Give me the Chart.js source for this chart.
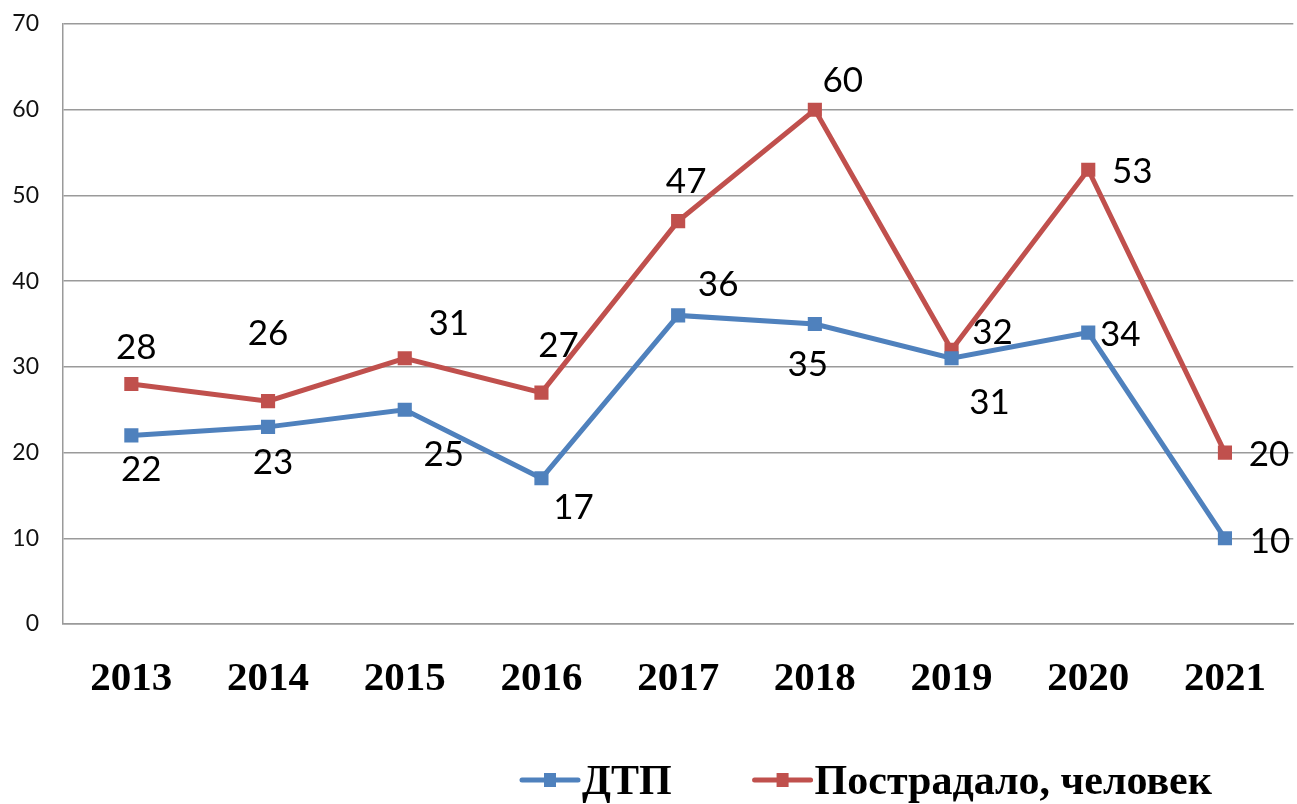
<!DOCTYPE html>
<html>
<head>
<meta charset="utf-8">
<script src="https://cdn.jsdelivr.net/npm/chart.js@4/dist/chart.umd.min.js"></script>
<style>
  html, body { margin: 0; padding: 0; background: #fff; }
  #wrap { width: 1297px; height: 804px; }
</style>
</head>
<body>
<div id="wrap"><canvas id="chart"></canvas></div>
<script>
// données
var years = ["2013", "2014", "2015", "2016", "2017", "2018", "2019", "2020", "2021"];
var dtp = [22, 23, 25, 17, 36, 35, 31, 34, 10];
var victims = [28, 26, 31, 27, 47, 60, 32, 53, 20];
var yTicks = [0, 10, 20, 30, 40, 50, 60, 70];

var blue = "#4F81BD";
var red = "#C0504D";

// décalage des étiquettes (dx, dy) par point
var dtpLabelShift = [[10, 34], [5, 36], [39, 45], [32, 29], [40, -31], [-7, 41], [38, 44], [32, 2], [45, 3]];
var victimsLabelShift = [[5, -36], [0, -67], [44, -35], [17, -47], [8, -39], [28, -29], [41, -17], [44, 2], [44, 2]];

// étiquettes de valeurs
var valueLabels = {
  id: "valueLabels",
  afterDatasetsDraw: function(chart) {
    var ctx = chart.ctx;
    var shifts = [dtpLabelShift, victimsLabelShift];
    ctx.save();
    ctx.font = "35px Lato";
    ctx.fillStyle = "#000";
    ctx.textAlign = "center";
    ctx.textBaseline = "middle";
    chart.data.datasets.forEach(function(ds, i) {
      chart.getDatasetMeta(i).data.forEach(function(pt, j) {
        ctx.fillText(ds.data[j], pt.x + shifts[i][j][0], pt.y + shifts[i][j][1]);
      });
    });
    ctx.restore();
  }
};

// légende en bas (ligne + carré)
var bottomLegend = {
  id: "bottomLegend",
  afterDraw: function(chart) {
    var ctx = chart.ctx;
    ctx.save();
    ctx.font = "bold 42px 'Liberation Serif'";
    ctx.textBaseline = "middle";
    ctx.textAlign = "left";
    var items = chart.data.datasets;
    var lineW = 56, gapText = 4, gapItem = 83;
    var x = 522;
    var y = 780;
    items.forEach(function(ds) {
      ctx.strokeStyle = ds.borderColor;
      ctx.lineWidth = 5;
      ctx.lineCap = "round";
      ctx.beginPath();
      ctx.moveTo(x, y);
      ctx.lineTo(x + lineW, y);
      ctx.stroke();
      ctx.fillStyle = ds.borderColor;
      ctx.fillRect(x + lineW / 2 - 6, y - 7, 12, 14);
      ctx.fillStyle = "#000";
      ctx.fillText(ds.label, x + lineW + gapText, y + 3);
      x += lineW + gapText + ctx.measureText(ds.label).width + gapItem;
    });
    ctx.restore();
  }
};

new Chart(document.getElementById("chart"), {
  type: "line",
  data: {
    labels: years,
    datasets: [
      {
        label: "ДТП",
        data: dtp,
        borderColor: blue,
        backgroundColor: blue,
        borderWidth: 5,
        pointStyle: "rect",
        pointRadius: 10,
        pointBorderWidth: 0,
        tension: 0
      },
      {
        label: "Пострадало, человек",
        data: victims,
        borderColor: red,
        backgroundColor: red,
        borderWidth: 5,
        pointStyle: "rect",
        pointRadius: 10,
        pointBorderWidth: 0,
        tension: 0
      }
    ]
  },
  options: {
    responsive: true,
    maintainAspectRatio: false,
    animation: false,
    layout: { autoPadding: false, padding: { top: 24, right: 1, left: 0, bottom: 0 } },
    plugins: {
      legend: { display: false },
      tooltip: { enabled: false }
    },
    scales: {
      x: {
        offset: true,
        grid: { display: false, drawTicks: false },
        border: { display: true, color: "#9a9a9a", width: 1.5 },
        ticks: {
          color: "#000",
          font: { family: "'Liberation Serif'", size: 41, weight: "bold" },
          padding: 31,
          maxRotation: 0
        },
        afterFit: function(scale) { scale.height = 180; }
      },
      y: {
        min: 0,
        max: 70,
        afterBuildTicks: function(scale) {
          scale.ticks = yTicks.map(function(v) { return { value: v }; });
        },
        grid: { color: "#9a9a9a", lineWidth: 1.5, drawTicks: false },
        border: { display: true, color: "#9a9a9a", width: 1.5 },
        ticks: {
          color: "#111",
          font: { family: "Lato", size: 23 },
          padding: 24
        },
        afterFit: function(scale) {
          scale.width = 63;
          scale.paddingTop = 0;
          scale.paddingBottom = 0;
        }
      }
    }
  },
  plugins: [valueLabels, bottomLegend]
});
</script>
</body>
</html>
